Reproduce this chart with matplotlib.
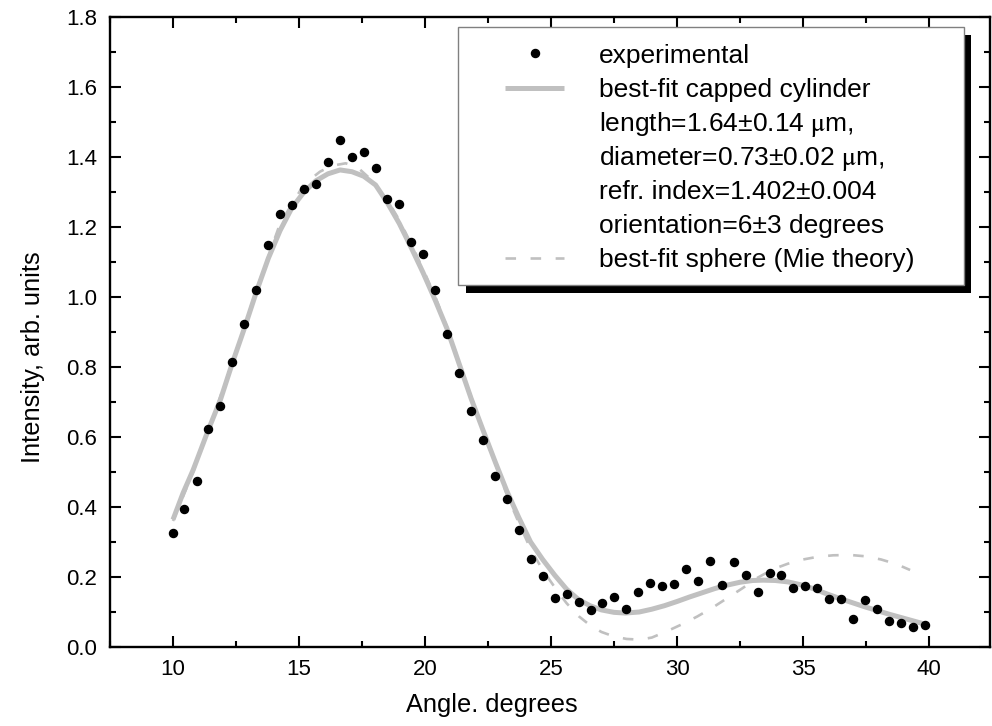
import matplotlib
matplotlib.use("Agg")
import matplotlib.pyplot as plt
from matplotlib.lines import Line2D
from matplotlib.patches import Rectangle
from matplotlib.ticker import MultipleLocator, FormatStrFormatter

plt.rcParams['font.family'] = ['Liberation Sans', 'DejaVu Sans']
plt.rcParams['mathtext.fontset'] = 'stix'

# experimental data
angle_exp = [10.0, 10.45, 10.94, 11.40, 11.88, 12.35, 12.83, 13.31, 13.78, 14.25, 14.72, 15.20,
             15.67, 16.15, 16.63, 17.10, 17.57, 18.04, 18.50, 18.98, 19.46, 19.92, 20.41, 20.87,
             21.35, 21.83, 22.30, 22.78, 23.25, 23.72, 24.19, 24.67, 25.15, 25.62, 26.10, 26.57,
             27.04, 27.51, 27.99, 28.46, 28.94, 29.40, 29.88, 30.36, 30.83, 31.31, 31.77, 32.25,
             32.73, 33.20, 33.68, 34.14, 34.62, 35.09, 35.57, 36.04, 36.51, 36.98, 37.46, 37.94,
             38.41, 38.87, 39.35, 39.83]
intensity_exp = [0.326, 0.395, 0.474, 0.623, 0.688, 0.814, 0.924, 1.019, 1.149, 1.238, 1.264, 1.310,
                 1.322, 1.386, 1.449, 1.401, 1.413, 1.369, 1.279, 1.265, 1.157, 1.122, 1.021, 0.894,
                 0.782, 0.673, 0.591, 0.488, 0.424, 0.334, 0.252, 0.203, 0.139, 0.152, 0.130, 0.105,
                 0.127, 0.143, 0.110, 0.156, 0.183, 0.173, 0.179, 0.222, 0.190, 0.247, 0.177, 0.244,
                 0.206, 0.157, 0.212, 0.206, 0.168, 0.174, 0.170, 0.138, 0.137, 0.081, 0.135, 0.108,
                 0.075, 0.069, 0.057, 0.062]

# best-fit capped cylinder
angle_cyl = [10.0, 10.4, 10.8, 11.4, 11.88, 12.35, 12.83, 13.31, 13.78, 14.25, 14.72, 15.2, 15.67,
             16.15, 16.63, 17.1, 17.57, 18.04, 18.5, 18.98, 19.46, 19.92, 20.41, 20.87, 21.35,
             21.83, 22.3, 22.78, 23.25, 23.72, 24.19, 24.67, 25.15, 25.62, 26.1, 26.55, 27.0,
             27.5, 27.94, 28.5, 29.0, 29.5, 30.0, 30.5, 31.0, 31.5, 32.0, 32.5, 33.0, 33.42,
             33.9, 34.4, 34.9, 35.4, 35.9, 36.4, 36.9, 37.4, 37.9, 38.4, 38.9, 39.4, 39.8]
intensity_cyl = [0.364, 0.44, 0.506, 0.62, 0.706, 0.81, 0.91, 1.015, 1.11, 1.19, 1.255, 1.30, 1.332,
                 1.352, 1.363, 1.358, 1.345, 1.32, 1.27, 1.21, 1.14, 1.07, 0.99, 0.91, 0.81,
                 0.71, 0.62, 0.53, 0.445, 0.37, 0.30, 0.25, 0.205, 0.165, 0.135, 0.118, 0.106,
                 0.099, 0.097, 0.100, 0.108, 0.118, 0.130, 0.143, 0.155, 0.167, 0.177, 0.185, 0.190, 0.191,
                 0.190, 0.186, 0.178, 0.167, 0.153, 0.140, 0.128, 0.116, 0.105, 0.094, 0.084, 0.074, 0.066]

# best-fit sphere (Mie theory)
angle_mie = [10.0, 10.8, 11.4, 12.35, 13.31, 14.25, 15.2, 15.83, 16.3, 16.85, 17.3, 17.82, 18.5,
             18.98, 19.46, 19.92, 20.41, 20.87, 21.35, 21.83, 22.3, 22.78, 23.25, 23.72, 24.19,
             24.67, 24.96, 25.3, 25.62, 26.1, 26.55, 27.0, 27.5, 28.0, 28.53, 29.0, 29.6, 30.2,
             30.8, 31.4, 32.0, 32.6, 33.2, 33.8, 34.4, 35.0, 35.6, 36.2, 36.87, 37.5, 38.1,
             38.7, 39.25]
intensity_mie = [0.36, 0.50, 0.62, 0.81, 1.02, 1.21, 1.322, 1.358, 1.375, 1.382, 1.372, 1.338, 1.277,
                 1.22, 1.15, 1.08, 1.0, 0.915, 0.815, 0.715, 0.62, 0.525, 0.435, 0.355, 0.28,
                 0.22, 0.19, 0.155, 0.125, 0.088, 0.062, 0.043, 0.030, 0.023, 0.021, 0.027, 0.045, 0.065,
                 0.087, 0.112, 0.140, 0.168, 0.198, 0.222, 0.238, 0.250, 0.258, 0.262, 0.263, 0.259, 0.250,
                 0.237, 0.220]

legend_labels = ["experimental", "best-fit capped cylinder",
                 "length=1.64\u00b10.14 $\\mathrm{\\mu}$m,", "diameter=0.73\u00b10.02 $\\mathrm{\\mu}$m,",
                 "refr. index=1.402\u00b10.004", "orientation=6\u00b13 degrees",
                 "best-fit sphere (Mie theory)"]

W, H = 992, 726
fig = plt.figure(figsize=(W / 100, H / 100), dpi=100)
ax = fig.add_axes([110 / W, 1 - 647 / H, 880 / W, 630 / H])

gray = '#c0c0c0'
ax.plot(angle_cyl, intensity_cyl, color=gray, lw=3.6, solid_capstyle='butt', zorder=2)
ax.plot(angle_mie, intensity_mie, color=gray, lw=1.9, dashes=(4.0, 5.5), zorder=2)
ax.plot(angle_exp, intensity_exp, 'o', color='black', ms=5.8, zorder=3)

ax.set_xlim(7.5, 42.42)
ax.set_ylim(0, 1.8)
ax.xaxis.set_major_locator(MultipleLocator(5))
ax.xaxis.set_minor_locator(MultipleLocator(2.5))
ax.yaxis.set_major_locator(MultipleLocator(0.2))
ax.yaxis.set_minor_locator(MultipleLocator(0.1))
ax.yaxis.set_major_formatter(FormatStrFormatter('%.1f'))
ax.tick_params(which='both', direction='in', top=True, right=True, width=1.5, labelsize=16)
ax.tick_params(which='major', length=7.8)
ax.tick_params(which='minor', length=4.3)
ax.tick_params(axis='y', pad=9.4)
ax.tick_params(axis='x', pad=8.3)
for s in ax.spines.values():
    s.set_linewidth(1.7)

ax.set_xlabel("Angle. degrees", fontsize=18.3, va='center', ha='center')
ax.xaxis.set_label_coords((492 - 110) / 880, (647 - 705) / 630)
ax.set_ylabel("Intensity, arb. units", fontsize=18.3, va='center', ha='center')
ax.yaxis.set_label_coords((33 - 110) / 880, (647 - 357) / 630)

# legend (manual, pixel layout)
def fx(px):
    return px / W

def fy(py):
    return 1 - py / H

fig.add_artist(Rectangle((fx(466), fy(293)), (971 - 466) / W, (293 - 35) / H,
                         transform=fig.transFigure, facecolor='black', edgecolor='none', zorder=5))
fig.add_artist(Rectangle((fx(458), fy(285)), (964 - 458) / W, (285 - 27) / H,
                         transform=fig.transFigure, facecolor='white', edgecolor='#808080',
                         lw=1.0, zorder=6))
fig.add_artist(Line2D([fx(535)], [fy(53.3)], marker='o', ms=5.8, color='black',
                      transform=fig.transFigure, zorder=7))
fig.add_artist(Line2D([fx(505), fx(564)], [fy(87.7), fy(87.7)], color=gray, lw=3.6,
                      solid_capstyle='butt', transform=fig.transFigure, zorder=7))
fig.add_artist(Line2D([fx(505), fx(564)], [fy(258.3), fy(258.3)], color=gray, lw=1.9,
                      dashes=(4.0, 5.5), transform=fig.transFigure, zorder=7))
for i, lab in enumerate(legend_labels):
    fig.text(fx(599), fy(62.7 + 34 * i), lab, fontsize=19, va='baseline', ha='left', zorder=8)

fig.savefig("out.png", dpi=100)
